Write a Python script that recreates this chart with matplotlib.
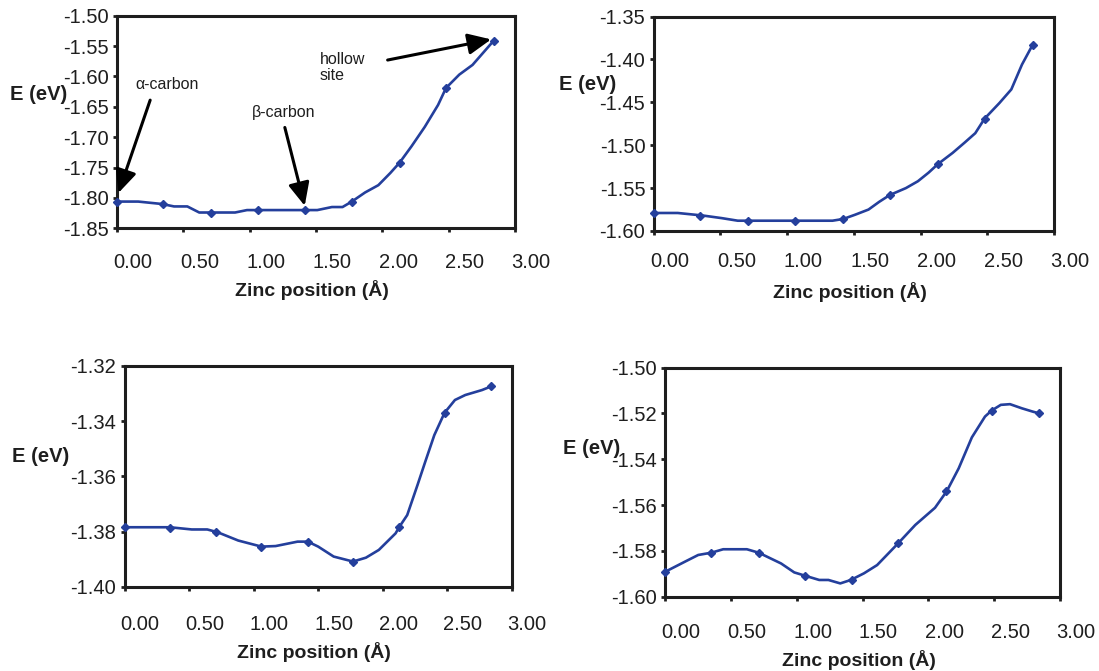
import matplotlib
matplotlib.use("Agg")
import matplotlib.pyplot as plt

plt.rcParams['font.family'] = ['Liberation Sans', 'DejaVu Sans']

# zinc positions of the computed points (shared by all four panels)
x_pos = [0.00, 0.35, 0.71, 1.06, 1.42, 1.77, 2.13, 2.48, 2.84]
x_ticks = [0.0, 0.5, 1.0, 1.5, 2.0, 2.5, 3.0]
x_ticklabels = ['0.00', '0.50', '1.00', '1.50', '2.00', '2.50', '3.00']

# panel 1 (top left)
e1 = [-1.806, -1.810, -1.824, -1.820, -1.820, -1.806, -1.742, -1.619, -1.541]
curve1_x = [0.00, 0.16, 0.34, 0.43, 0.53, 0.62, 0.72, 0.89, 0.98, 1.06, 1.42, 1.51, 1.62,
            1.70, 1.77, 1.87, 1.97, 2.06, 2.13, 2.22, 2.32, 2.42, 2.48, 2.58, 2.68, 2.84]
curve1_y = [-1.806, -1.806, -1.810, -1.814, -1.814, -1.824, -1.824, -1.824, -1.820, -1.820,
            -1.820, -1.820, -1.815, -1.815, -1.806, -1.791, -1.779, -1.759, -1.742, -1.715,
            -1.683, -1.647, -1.619, -1.597, -1.581, -1.541]
yticks1 = [-1.85, -1.80, -1.75, -1.70, -1.65, -1.60, -1.55, -1.50]

# panel 2 (top right)
e2 = [-1.579, -1.582, -1.588, -1.588, -1.586, -1.558, -1.522, -1.469, -1.383]
curve2_x = [0.00, 0.18, 0.37, 0.51, 0.63, 0.71, 1.07, 1.34, 1.42, 1.51, 1.61, 1.69, 1.77,
            1.89, 1.98, 2.06, 2.13, 2.24, 2.33, 2.41, 2.48, 2.59, 2.68, 2.76, 2.84]
curve2_y = [-1.579, -1.579, -1.582, -1.585, -1.588, -1.588, -1.588, -1.588, -1.586, -1.581,
            -1.575, -1.566, -1.558, -1.550, -1.542, -1.532, -1.522, -1.509, -1.497, -1.486,
            -1.469, -1.451, -1.435, -1.406, -1.383]
yticks2 = [-1.60, -1.55, -1.50, -1.45, -1.40, -1.35]

# panel 3 (bottom left)
e3 = [-1.3784, -1.3786, -1.3802, -1.3854, -1.3836, -1.3908, -1.3782, -1.3370, -1.3275]
curve3_x = [0.00, 0.35, 0.52, 0.64, 0.72, 0.88, 1.06, 1.17, 1.34, 1.42, 1.50, 1.62, 1.77,
            1.87, 1.97, 2.10, 2.13, 2.19, 2.27, 2.33, 2.40, 2.46, 2.48, 2.56, 2.64, 2.77, 2.84]
curve3_y = [-1.3784, -1.3784, -1.3792, -1.3792, -1.3802, -1.3832, -1.3854, -1.3852, -1.3836,
            -1.3836, -1.3854, -1.3890, -1.3908, -1.3894, -1.3866, -1.3806, -1.3782, -1.3740,
            -1.3631, -1.3547, -1.3451, -1.3390, -1.3370, -1.3324, -1.3306, -1.3288, -1.3275]
yticks3 = [-1.40, -1.38, -1.36, -1.34, -1.32]

# panel 4 (bottom right)
e4 = [-1.5891, -1.5808, -1.5808, -1.5908, -1.5927, -1.5767, -1.5539, -1.5188, -1.5200]
curve4_x = [0.00, 0.15, 0.25, 0.35, 0.44, 0.62, 0.71, 0.88, 0.98, 1.06, 1.17, 1.24, 1.33,
            1.41, 1.51, 1.61, 1.77, 1.90, 2.05, 2.14, 2.23, 2.33, 2.43, 2.48, 2.55, 2.62,
            2.71, 2.79, 2.84]
curve4_y = [-1.5891, -1.5847, -1.5818, -1.5808, -1.5793, -1.5793, -1.5808, -1.5855, -1.5894,
            -1.5908, -1.5927, -1.5927, -1.5942, -1.5927, -1.5898, -1.5862, -1.5767, -1.5687,
            -1.5612, -1.5539, -1.5440, -1.5305, -1.5214, -1.5188, -1.5163, -1.5160, -1.5178,
            -1.5192, -1.5200]
yticks4 = [-1.60, -1.58, -1.56, -1.54, -1.52, -1.50]

BLUE = '#243f9c'
INK = '#1e1e1e'
W, H = 1099, 671

fig = plt.figure(figsize=(W / 100, H / 100), dpi=100)


def px_rect(left, top, right, bottom):
    return [left / W, 1 - bottom / H, (right - left) / W, (bottom - top) / H]


def panel(rect, curve_x, curve_y, ex, ey, yticks, elabel_xy, lab_dy, zinc_dy):
    ax = fig.add_axes(rect)
    ax.plot(curve_x, curve_y, color=BLUE, lw=1.9, clip_on=False, zorder=3)
    ax.plot(ex, ey, 'D', color=BLUE, ms=4.5, clip_on=False, zorder=4)
    ax.set_xlim(0, 3)
    ax.set_ylim(yticks[0], yticks[-1])
    ax.set_yticks(yticks, labels=[f'{t:.2f}' for t in yticks])
    ax.set_xticks(x_ticks, labels=[])
    ax.tick_params(direction='out', length=3, width=2, colors=INK,
                   labelsize=14.5, pad=3)
    for s in ax.spines.values():
        s.set_linewidth(2.2)
        s.set_color(INK)
    # Excel-style category labels sit a bit right of the tick marks
    for t, lbl in zip(x_ticks, x_ticklabels):
        ax.annotate(lbl, xy=(t + 0.12, 0), xycoords=('data', 'axes fraction'),
                    xytext=(0, -lab_dy * 0.72), textcoords='offset points',
                    ha='center', va='center', fontsize=14.5, color=INK,
                    annotation_clip=False)
    ax.annotate('Zinc position (Å)', xy=(0.49, 0), xycoords='axes fraction',
                xytext=(0, -zinc_dy * 0.72), textcoords='offset points',
                ha='center', va='center', fontsize=14, fontweight='bold',
                color=INK, annotation_clip=False)
    fig.text(elabel_xy[0] / W, 1 - elabel_xy[1] / H, 'E (eV)', ha='center',
             va='center', fontsize=14.5, fontweight='bold', color=INK)
    return ax


ax1 = panel(px_rect(117, 15.7, 515, 228.3), curve1_x, curve1_y, x_pos, e1, yticks1,
            (39, 95), 34, 62)
ax2 = panel(px_rect(653.7, 16.5, 1054, 231), curve2_x, curve2_y, x_pos, e2, yticks2,
            (588, 85), 31, 61)
ax3 = panel(px_rect(124.7, 365.7, 511.7, 587), curve3_x, curve3_y, x_pos, e3, yticks3,
            (41, 457), 37, 65)
ax4 = panel(px_rect(665.3, 367.5, 1060, 596.7), curve4_x, curve4_y, x_pos, e4, yticks4,
            (592, 448), 36, 63)

# site annotations on the first panel
arrow = dict(arrowstyle='-|>,head_length=0.7,head_width=0.32', color='black',
             lw=2.2, mutation_scale=20, shrinkA=0, shrinkB=0)
ax1.annotate('', xy=(0.01, -1.792), xytext=(0.25, -1.639), arrowprops=arrow,
             annotation_clip=False)
ax1.annotate('', xy=(1.415, -1.813), xytext=(1.265, -1.684), arrowprops=arrow)
ax1.annotate('', xy=(2.82, -1.539), xytext=(2.04, -1.573), arrowprops=arrow)
ax1.text(0.136, -1.6125, 'α-carbon', fontsize=11.5, va='center', color=INK)
ax1.text(1.017, -1.660, 'β-carbon', fontsize=11.5, va='center', color=INK)
ax1.text(1.529, -1.585, 'hollow\nsite', fontsize=11.5, va='center', color=INK,
         linespacing=1.05)

fig.savefig('out.png', dpi=100)
